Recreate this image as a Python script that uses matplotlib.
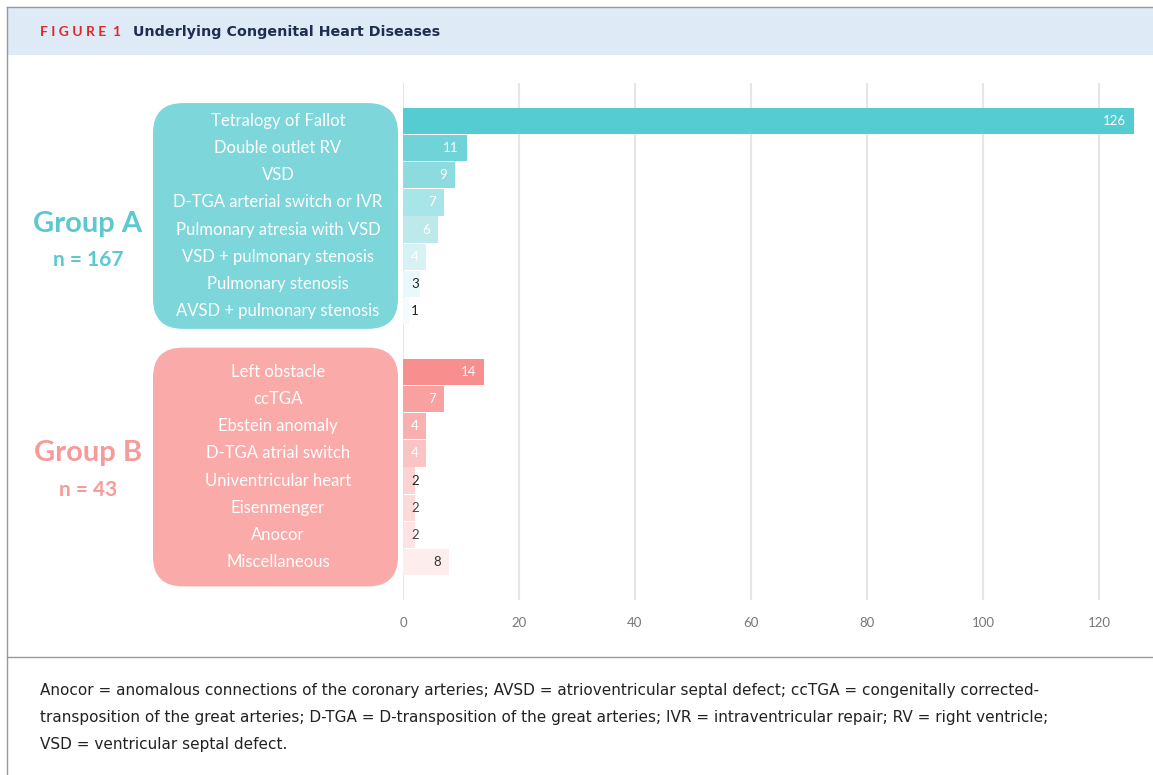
import matplotlib
matplotlib.use("Agg")
import matplotlib.pyplot as plt
from matplotlib.patches import FancyBboxPatch, Rectangle
from matplotlib.lines import Line2D
from matplotlib.transforms import IdentityTransform

# data
group_a_labels = ["Tetralogy of Fallot", "Double outlet RV", "VSD",
                  "D-TGA arterial switch or IVR", "Pulmonary atresia with VSD",
                  "VSD + pulmonary stenosis", "Pulmonary stenosis",
                  "AVSD + pulmonary stenosis"]
group_a_values = [126, 11, 9, 7, 6, 4, 3, 1]
group_b_labels = ["Left obstacle", "ccTGA", "Ebstein anomaly", "D-TGA atrial switch",
                  "Univentricular heart", "Eisenmenger", "Anocor", "Miscellaneous"]
group_b_values = [14, 7, 4, 4, 2, 2, 2, 8]
group_names = ["Group A", "Group B"]
group_n = ["n = 167", "n = 43"]
x_ticks = [0, 20, 40, 60, 80, 100, 120]

# styles
a_colors = ["#55cbd2", "#6fd3d8", "#8cdcdf", "#a8e5e8", "#bde9eb", "#d6f2f3", "#e9f8f9", "#f4fbfc"]
b_colors = ["#f98e8e", "#f9a1a1", "#f9b0b0", "#fbc4c4", "#fcd3d3", "#fddada", "#fde3e3", "#feeded"]
a_text = ["white"] * 6 + ["#222222"] * 2
b_text = ["white"] * 4 + ["#222222", "#444444", "#444444", "#333333"]

W, H = 1153, 775
fig = plt.figure(figsize=(W / 100, H / 100), dpi=100)
fig.patch.set_facecolor("white")

sans = ["Lato", "DejaVu Sans"]
narrow = ["DejaVu Sans"]

def fx(px):
    return px / W

def fy(py):
    return 1 - py / H

# frame and header
fig.patches.append(Rectangle((fx(8), fy(55)), 1 - fx(8), fy(8) - fy(55),
                             transform=fig.transFigure, facecolor="#dfeaf7", edgecolor="none"))
fig.lines.append(Line2D([fx(7), 1], [fy(7), fy(7)], transform=fig.transFigure, color="#999999", lw=1))
fig.lines.append(Line2D([fx(7), fx(7)], [fy(7), 0], transform=fig.transFigure, color="#999999", lw=1))
fig.lines.append(Line2D([fx(7), 1], [fy(657), fy(657)], transform=fig.transFigure, color="#999999", lw=1))

fig.text(fx(40), fy(32), "F I G U R E  1", color="#e3242b", fontsize=10, fontweight="bold",
         family=sans, va="center", ha="left")
fig.text(fx(133), fy(32), "Underlying Congenital Heart Diseases", color="#1f2d4e", fontsize=10.3,
         fontweight="bold", family=narrow, va="center", ha="left")

caption = ("Anocor = anomalous connections of the coronary arteries; AVSD = atrioventricular septal defect; ccTGA = congenitally corrected-\n"
           "transposition of the great arteries; D-TGA = D-transposition of the great arteries; IVR = intraventricular repair; RV = right ventricle;\n"
           "VSD = ventricular septal defect.")
fig.text(fx(40), fy(683), caption, color="#222222", fontsize=11.0, family=narrow,
         va="top", ha="left", linespacing=2.02)

# axes
xmax = 127
ax = fig.add_axes([fx(403), fy(600), fx(403 + xmax * 5.8) - fx(403), fy(83) - fy(600)])

pos_a = [i for i in range(len(group_a_values))]
pos_b = [i + 9.25 for i in range(len(group_b_values))]

ax.barh(pos_a, group_a_values, height=0.97, color=a_colors)
ax.barh(pos_b, group_b_values, height=0.97, color=b_colors)

for pos, vals, cols in [(pos_a, group_a_values, a_text), (pos_b, group_b_values, b_text)]:
    for p, v, c in zip(pos, vals, cols):
        ax.text(max(v - 1.4, 2.75), p, str(v), color=c, fontsize=9.5, family=sans,
                ha="right", va="center")

ax.set_xlim(0, xmax)
ax.set_ylim(pos_b[-1] + 1.4, -1.4)
ax.set_xticks(x_ticks)
ax.set_yticks([])
ax.xaxis.grid(True, color="#e6e6e6", lw=1.5)
ax.set_axisbelow(True)
for s in ax.spines.values():
    s.set_visible(False)
ax.tick_params(axis="x", length=0, pad=12, labelcolor="#777777", labelsize=9.5)
for t in ax.get_xticklabels():
    t.set_family(sans)

# rounded group boxes
box_colors = ["#7dd6da", "#f9aaa9"]
title_colors = ["#5bc9cf", "#f79a9a"]
pads = [0.66, 0.9]
title_rows = [3.8, 3.0]
for k, (pos, labels) in enumerate([(pos_a, group_a_labels), (pos_b, group_b_labels)]):
    top = ax.transData.transform((0, pos[0] - pads[k]))[1]
    bot = ax.transData.transform((0, pos[-1] + pads[k]))[1]
    box = FancyBboxPatch((153, bot), 245, top - bot, boxstyle="round,pad=0,rounding_size=30",
                         transform=IdentityTransform(), facecolor=box_colors[k], edgecolor="none")
    fig.patches.append(box)
    for p, lab in zip(pos, labels):
        yp = ax.transData.transform((0, p))[1]
        fig.text(fx(278), yp / H, lab, color="white", fontsize=12, family=sans,
                 ha="center", va="center")
    yt = ax.transData.transform((0, pos[0] + title_rows[k]))[1] / H
    yn = ax.transData.transform((0, pos[0] + title_rows[k] + 1.33))[1] / H
    fig.text(fx(88), yt, group_names[k], color=title_colors[k], fontsize=21,
             fontweight="bold", family=sans, ha="center", va="center")
    fig.text(fx(88), yn, group_n[k], color=title_colors[k], fontsize=15,
             fontweight="bold", family=sans, ha="center", va="center")

fig.savefig("out.png", dpi=100)
